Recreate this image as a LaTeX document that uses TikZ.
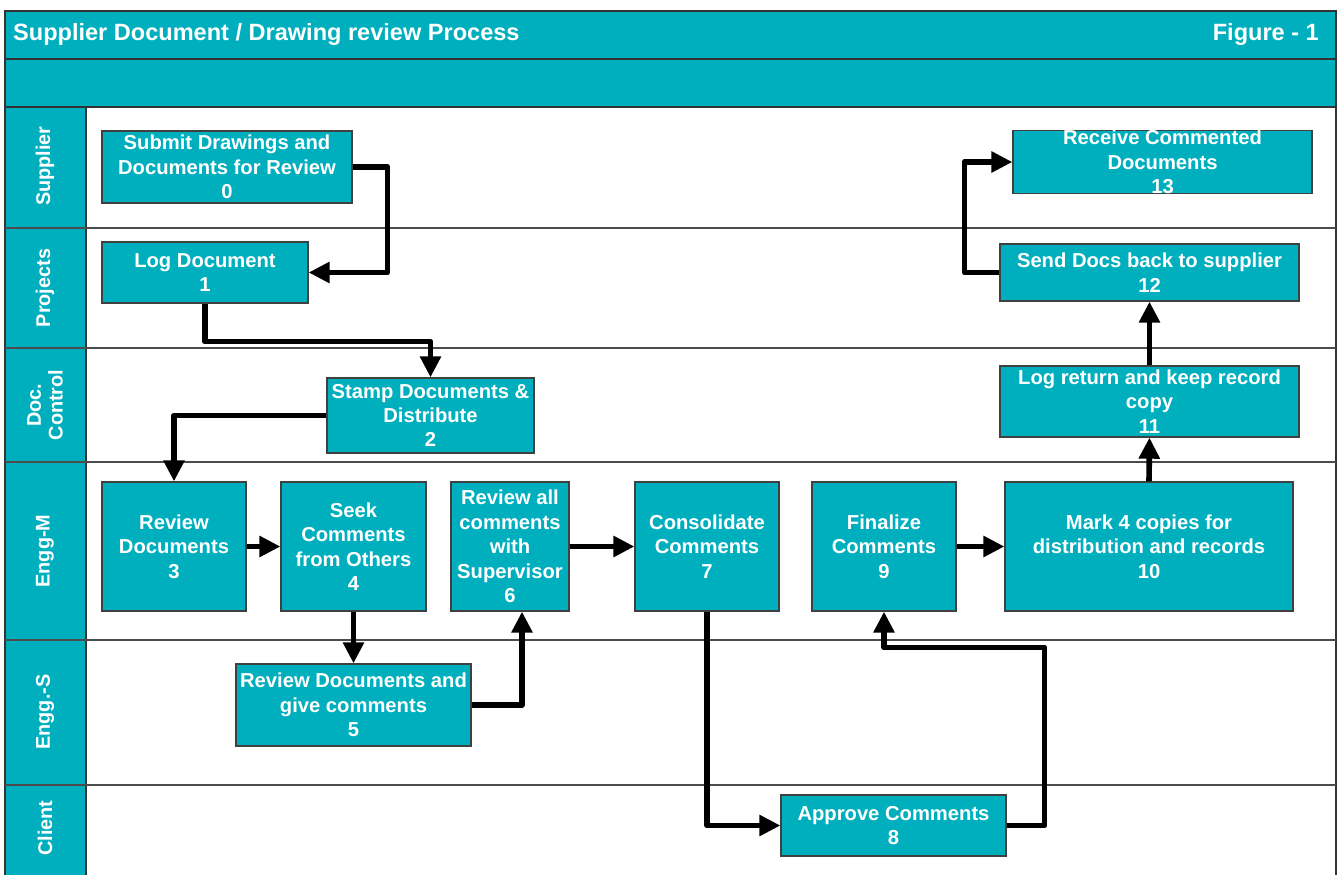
\documentclass[tikz,border=0pt]{standalone}
\usepackage{fontspec}
\setmainfont{Liberation Sans}
\usetikzlibrary{arrows.meta,positioning}
\definecolor{swimteal}{HTML}{00AFBE}

\tikzset{
  stepbox/.style={draw=black!75, line width=0.7pt, fill=swimteal, text=white,
    font=\bfseries\fontsize{11.5}{13.9}\selectfont, align=center, inner sep=0pt},
  lanelabel/.style={text=white, rotate=90, align=center,
    font=\bfseries\fontsize{11.3}{12.5}\selectfont},
  flow/.style={line width=3.2pt, line join=round,
    -{Triangle[length=12pt,width=11.5pt]}},
}

\begin{document}
\begin{tikzpicture}[x=0.02cm,y=-0.02cm]
	\useasboundingbox (0,0) rectangle (1338,875);

	% frame and swim lanes
	\fill[swimteal] (5,11) rectangle (1336,107);
	\fill[swimteal] (5,107) rectangle (86,880);
	\draw[black!80, line width=0.6pt] (5,880) -- (5,11) -- (1336,11) -- (1336,880);
	\draw[black!80, line width=0.6pt] (5,59) -- (1336,59);
	\draw[black!80, line width=0.6pt] (5,107) -- (1336,107);
	\draw[black!80, line width=0.6pt] (86,107) -- (86,880);
	\foreach \y in {228,348,462,640,785}
		\draw[black!70, line width=0.8pt] (5,\y) -- (1336,\y);

	\node[anchor=west, text=white, font=\bfseries\fontsize{13.4}{15}\selectfont] (title) at (7,34)
		{Supplier Document / Drawing review Process};
	\node[anchor=east, text=white, font=\bfseries\fontsize{13.4}{15}\selectfont] (figno) at (1325,34)
		{Figure - 1};

	\node[lanelabel] (lsupplier) at (45,166) {Supplier};
	\node[lanelabel] (lprojects) at (45,288) {Projects};
	\node[lanelabel] (ldoc) at (45,405) {Doc.\\Control};
	\node[lanelabel] (lenggm) at (45,551) {Engg-M};
	\node[lanelabel] (lenggs) at (45,712) {Engg.-S};
	\node[lanelabel] (lclient) at (45,828) {Client};

	% process steps
	\node[stepbox, minimum width=5cm, minimum height=1.44cm] (submit) at (227,167)
		{Submit Drawings and\\Documents for Review\\0};
	\node[stepbox, minimum width=5.98cm, minimum height=1.24cm] (receive) at (1162.5,162)
		{Receive Commented\\Documents\\13};
	\node[stepbox, minimum width=4.12cm, minimum height=1.22cm] (logdoc) at (205,272.5)
		{Log Document\\1};
	\node[stepbox, minimum width=5.98cm, minimum height=1.14cm] (sendback) at (1149.5,272.5)
		{Send Docs back to supplier\\12};
	\node[stepbox, minimum width=4.14cm, minimum height=1.5cm] (stamp) at (430.5,415.5)
		{Stamp Documents \&\\Distribute\\2};
	\node[stepbox, minimum width=5.98cm, minimum height=1.42cm] (logreturn) at (1149.5,401.5)
		{Log return and keep record\\copy\\11};
	\node[stepbox, minimum width=2.88cm, minimum height=2.58cm] (review) at (174,546.5)
		{Review\\Documents\\3};
	\node[stepbox, minimum width=2.9cm, minimum height=2.58cm] (seek) at (353.5,546.5)
		{Seek\\Comments\\from Others\\4};
	\node[stepbox, minimum width=2.36cm, minimum height=2.58cm] (supervisor) at (510,546.5)
		{Review all\\comments\\with\\Supervisor\\6};
	\node[stepbox, minimum width=2.88cm, minimum height=2.58cm] (consolidate) at (707,546.5)
		{Consolidate\\Comments\\7};
	\node[stepbox, minimum width=2.88cm, minimum height=2.58cm] (finalize) at (884,546.5)
		{Finalize\\Comments\\9};
	\node[stepbox, minimum width=5.76cm, minimum height=2.58cm] (mark) at (1149,546.5)
		{Mark 4 copies for\\distribution and records\\10};
	\node[stepbox, minimum width=4.7cm, minimum height=1.64cm] (reviewS) at (353.5,705)
		{Review Documents and\\give comments\\5};
	\node[stepbox, minimum width=4.5cm, minimum height=1.22cm] (approve) at (893.5,825.5)
		{Approve Comments\\8};

	% connectors
	\draw[flow] (submit.east) -- ++(35,0) |- (logdoc.east);
	\draw[flow] (logdoc.south) -- ++(0,38) -| (stamp.north);
	\draw[flow] (stamp.west) -| (review.north);
	\draw[flow] (review.east) -- (seek.west);
	\draw[flow] (seek.south) -- (reviewS.north);
	\draw[flow] (reviewS.east) -| ([xshift=0.24cm]supervisor.south);
	\draw[flow] (supervisor.east) -- (consolidate.west);
	\draw[flow] (consolidate.south) |- (approve.west);
	\draw[flow] (approve.east) -- ++(38,0) -- ++(0,-178) -| (finalize.south);
	\draw[flow] (finalize.east) -- (mark.west);
	\draw[flow] (mark.north) -- (logreturn.south);
	\draw[flow] (logreturn.north) -- (sendback.south);
	\draw[flow] (sendback.west) -- ++(-35,0) |- (receive.west);
\end{tikzpicture}
\end{document}
